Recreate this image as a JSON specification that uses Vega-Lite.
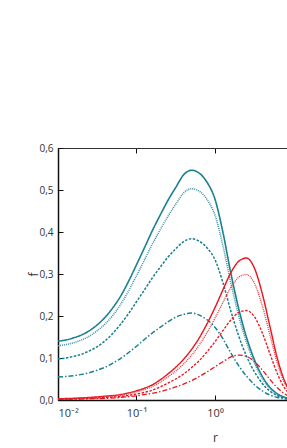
{
  "$schema": "https://vega.github.io/schema/vega-lite/v6.json",
  "width": 314,
  "height": 252,
  "autosize": "none",
  "padding": {"left": 58, "top": 148, "right": 0, "bottom": 48},
  "background": "white",
  "config": {
    "view": {"stroke": "#333", "strokeWidth": 1},
    "font": "Open Sans",
    "axis": {
      "labelFont": "Open Sans", "titleFont": "Open Sans",
      "labelColor": "#333", "titleColor": "#333",
      "labelFontSize": 10, "titleFontSize": 12, "titleFontWeight": "normal",
      "domainColor": "#111", "domainWidth": 1.5, "tickColor": "#111", "tickWidth": 1,
      "grid": false
    }
  },
  "datasets": {
    "curves": [
      {"r": 0.01, "s": "B1", "f": 0.140}, {"r": 0.0126, "s": "B1", "f": 0.143}, {"r": 0.0158, "s": "B1", "f": 0.148}, {"r": 0.02, "s": "B1", "f": 0.155}, {"r": 0.0251, "s": "B1", "f": 0.165}, {"r": 0.0316, "s": "B1", "f": 0.179}, {"r": 0.0398, "s": "B1", "f": 0.197}, {"r": 0.0501, "s": "B1", "f": 0.220}, {"r": 0.0631, "s": "B1", "f": 0.248}, {"r": 0.0794, "s": "B1", "f": 0.283}, {"r": 0.1, "s": "B1", "f": 0.322}, {"r": 0.126, "s": "B1", "f": 0.362}, {"r": 0.158, "s": "B1", "f": 0.402}, {"r": 0.2, "s": "B1", "f": 0.440}, {"r": 0.251, "s": "B1", "f": 0.475}, {"r": 0.316, "s": "B1", "f": 0.506}, {"r": 0.398, "s": "B1", "f": 0.536}, {"r": 0.501, "s": "B1", "f": 0.547}, {"r": 0.631, "s": "B1", "f": 0.540}, {"r": 0.794, "s": "B1", "f": 0.518}, {"r": 1, "s": "B1", "f": 0.478}, {"r": 1.26, "s": "B1", "f": 0.400}, {"r": 1.58, "s": "B1", "f": 0.305}, {"r": 2.0, "s": "B1", "f": 0.218}, {"r": 2.51, "s": "B1", "f": 0.150}, {"r": 3.16, "s": "B1", "f": 0.097}, {"r": 3.98, "s": "B1", "f": 0.057}, {"r": 5.01, "s": "B1", "f": 0.030}, {"r": 6.31, "s": "B1", "f": 0.014}, {"r": 7.94, "s": "B1", "f": 0.006}, {"r": 10, "s": "B1", "f": 0.0025}, {"r": 15.8, "s": "B1", "f": 0.0005}, {"r": 31.6, "s": "B1", "f": 0.0}, {"r": 100, "s": "B1", "f": 0.0},

      {"r": 0.01, "s": "B2", "f": 0.129}, {"r": 0.0126, "s": "B2", "f": 0.132}, {"r": 0.0158, "s": "B2", "f": 0.136}, {"r": 0.02, "s": "B2", "f": 0.143}, {"r": 0.0251, "s": "B2", "f": 0.152}, {"r": 0.0316, "s": "B2", "f": 0.165}, {"r": 0.0398, "s": "B2", "f": 0.181}, {"r": 0.0501, "s": "B2", "f": 0.202}, {"r": 0.0631, "s": "B2", "f": 0.228}, {"r": 0.0794, "s": "B2", "f": 0.260}, {"r": 0.1, "s": "B2", "f": 0.296}, {"r": 0.126, "s": "B2", "f": 0.333}, {"r": 0.158, "s": "B2", "f": 0.370}, {"r": 0.2, "s": "B2", "f": 0.405}, {"r": 0.251, "s": "B2", "f": 0.437}, {"r": 0.316, "s": "B2", "f": 0.466}, {"r": 0.398, "s": "B2", "f": 0.493}, {"r": 0.501, "s": "B2", "f": 0.503}, {"r": 0.631, "s": "B2", "f": 0.497}, {"r": 0.794, "s": "B2", "f": 0.477}, {"r": 1, "s": "B2", "f": 0.440}, {"r": 1.26, "s": "B2", "f": 0.368}, {"r": 1.58, "s": "B2", "f": 0.281}, {"r": 2.0, "s": "B2", "f": 0.201}, {"r": 2.51, "s": "B2", "f": 0.138}, {"r": 3.16, "s": "B2", "f": 0.089}, {"r": 3.98, "s": "B2", "f": 0.052}, {"r": 5.01, "s": "B2", "f": 0.028}, {"r": 6.31, "s": "B2", "f": 0.013}, {"r": 7.94, "s": "B2", "f": 0.0055}, {"r": 10, "s": "B2", "f": 0.0023}, {"r": 15.8, "s": "B2", "f": 0.0005}, {"r": 31.6, "s": "B2", "f": 0.0}, {"r": 100, "s": "B2", "f": 0.0},

      {"r": 0.01, "s": "B3", "f": 0.098}, {"r": 0.0126, "s": "B3", "f": 0.100}, {"r": 0.0158, "s": "B3", "f": 0.104}, {"r": 0.02, "s": "B3", "f": 0.109}, {"r": 0.0251, "s": "B3", "f": 0.117}, {"r": 0.0316, "s": "B3", "f": 0.127}, {"r": 0.0398, "s": "B3", "f": 0.141}, {"r": 0.0501, "s": "B3", "f": 0.159}, {"r": 0.0631, "s": "B3", "f": 0.181}, {"r": 0.0794, "s": "B3", "f": 0.206}, {"r": 0.1, "s": "B3", "f": 0.234}, {"r": 0.126, "s": "B3", "f": 0.262}, {"r": 0.158, "s": "B3", "f": 0.290}, {"r": 0.2, "s": "B3", "f": 0.316}, {"r": 0.251, "s": "B3", "f": 0.340}, {"r": 0.316, "s": "B3", "f": 0.360}, {"r": 0.398, "s": "B3", "f": 0.377}, {"r": 0.501, "s": "B3", "f": 0.384}, {"r": 0.631, "s": "B3", "f": 0.378}, {"r": 0.794, "s": "B3", "f": 0.362}, {"r": 1, "s": "B3", "f": 0.334}, {"r": 1.26, "s": "B3", "f": 0.280}, {"r": 1.58, "s": "B3", "f": 0.214}, {"r": 2.0, "s": "B3", "f": 0.153}, {"r": 2.51, "s": "B3", "f": 0.105}, {"r": 3.16, "s": "B3", "f": 0.068}, {"r": 3.98, "s": "B3", "f": 0.040}, {"r": 5.01, "s": "B3", "f": 0.021}, {"r": 6.31, "s": "B3", "f": 0.010}, {"r": 7.94, "s": "B3", "f": 0.004}, {"r": 10, "s": "B3", "f": 0.0018}, {"r": 15.8, "s": "B3", "f": 0.0004}, {"r": 31.6, "s": "B3", "f": 0.0}, {"r": 100, "s": "B3", "f": 0.0},

      {"r": 0.01, "s": "B4", "f": 0.055}, {"r": 0.0126, "s": "B4", "f": 0.056}, {"r": 0.0158, "s": "B4", "f": 0.058}, {"r": 0.02, "s": "B4", "f": 0.061}, {"r": 0.0251, "s": "B4", "f": 0.065}, {"r": 0.0316, "s": "B4", "f": 0.071}, {"r": 0.0398, "s": "B4", "f": 0.078}, {"r": 0.0501, "s": "B4", "f": 0.088}, {"r": 0.0631, "s": "B4", "f": 0.099}, {"r": 0.0794, "s": "B4", "f": 0.113}, {"r": 0.1, "s": "B4", "f": 0.128}, {"r": 0.126, "s": "B4", "f": 0.144}, {"r": 0.158, "s": "B4", "f": 0.159}, {"r": 0.2, "s": "B4", "f": 0.173}, {"r": 0.251, "s": "B4", "f": 0.186}, {"r": 0.316, "s": "B4", "f": 0.197}, {"r": 0.398, "s": "B4", "f": 0.204}, {"r": 0.501, "s": "B4", "f": 0.207}, {"r": 0.631, "s": "B4", "f": 0.202}, {"r": 0.794, "s": "B4", "f": 0.191}, {"r": 1, "s": "B4", "f": 0.173}, {"r": 1.26, "s": "B4", "f": 0.146}, {"r": 1.58, "s": "B4", "f": 0.113}, {"r": 2.0, "s": "B4", "f": 0.082}, {"r": 2.51, "s": "B4", "f": 0.057}, {"r": 3.16, "s": "B4", "f": 0.037}, {"r": 3.98, "s": "B4", "f": 0.022}, {"r": 5.01, "s": "B4", "f": 0.012}, {"r": 6.31, "s": "B4", "f": 0.006}, {"r": 7.94, "s": "B4", "f": 0.0025}, {"r": 10, "s": "B4", "f": 0.001}, {"r": 15.8, "s": "B4", "f": 0.0002}, {"r": 31.6, "s": "B4", "f": 0.0}, {"r": 100, "s": "B4", "f": 0.0},

      {"r": 0.01, "s": "R1", "f": 0.003}, {"r": 0.0158, "s": "R1", "f": 0.004}, {"r": 0.0251, "s": "R1", "f": 0.006}, {"r": 0.0398, "s": "R1", "f": 0.009}, {"r": 0.0631, "s": "R1", "f": 0.013}, {"r": 0.0794, "s": "R1", "f": 0.017}, {"r": 0.1, "s": "R1", "f": 0.022}, {"r": 0.126, "s": "R1", "f": 0.028}, {"r": 0.158, "s": "R1", "f": 0.036}, {"r": 0.2, "s": "R1", "f": 0.048}, {"r": 0.251, "s": "R1", "f": 0.062}, {"r": 0.316, "s": "R1", "f": 0.078}, {"r": 0.398, "s": "R1", "f": 0.097}, {"r": 0.501, "s": "R1", "f": 0.120}, {"r": 0.631, "s": "R1", "f": 0.148}, {"r": 0.794, "s": "R1", "f": 0.182}, {"r": 1, "s": "R1", "f": 0.220}, {"r": 1.26, "s": "R1", "f": 0.262}, {"r": 1.58, "s": "R1", "f": 0.302}, {"r": 2.0, "s": "R1", "f": 0.330}, {"r": 2.51, "s": "R1", "f": 0.338}, {"r": 3.16, "s": "R1", "f": 0.315}, {"r": 3.98, "s": "R1", "f": 0.255}, {"r": 5.01, "s": "R1", "f": 0.175}, {"r": 6.31, "s": "R1", "f": 0.095}, {"r": 7.94, "s": "R1", "f": 0.040}, {"r": 10, "s": "R1", "f": 0.014}, {"r": 15.8, "s": "R1", "f": 0.002}, {"r": 31.6, "s": "R1", "f": 0.0}, {"r": 100, "s": "R1", "f": 0.0},

      {"r": 0.01, "s": "R2", "f": 0.0027}, {"r": 0.0158, "s": "R2", "f": 0.0035}, {"r": 0.0251, "s": "R2", "f": 0.0053}, {"r": 0.0398, "s": "R2", "f": 0.008}, {"r": 0.0631, "s": "R2", "f": 0.0115}, {"r": 0.0794, "s": "R2", "f": 0.015}, {"r": 0.1, "s": "R2", "f": 0.0195}, {"r": 0.126, "s": "R2", "f": 0.0248}, {"r": 0.158, "s": "R2", "f": 0.0319}, {"r": 0.2, "s": "R2", "f": 0.0425}, {"r": 0.251, "s": "R2", "f": 0.0549}, {"r": 0.316, "s": "R2", "f": 0.069}, {"r": 0.398, "s": "R2", "f": 0.0858}, {"r": 0.501, "s": "R2", "f": 0.106}, {"r": 0.631, "s": "R2", "f": 0.131}, {"r": 0.794, "s": "R2", "f": 0.161}, {"r": 1, "s": "R2", "f": 0.195}, {"r": 1.26, "s": "R2", "f": 0.232}, {"r": 1.58, "s": "R2", "f": 0.267}, {"r": 2.0, "s": "R2", "f": 0.292}, {"r": 2.51, "s": "R2", "f": 0.299}, {"r": 3.16, "s": "R2", "f": 0.279}, {"r": 3.98, "s": "R2", "f": 0.226}, {"r": 5.01, "s": "R2", "f": 0.155}, {"r": 6.31, "s": "R2", "f": 0.084}, {"r": 7.94, "s": "R2", "f": 0.035}, {"r": 10, "s": "R2", "f": 0.012}, {"r": 15.8, "s": "R2", "f": 0.002}, {"r": 31.6, "s": "R2", "f": 0.0}, {"r": 100, "s": "R2", "f": 0.0},

      {"r": 0.01, "s": "R3", "f": 0.002}, {"r": 0.0158, "s": "R3", "f": 0.0026}, {"r": 0.0251, "s": "R3", "f": 0.0039}, {"r": 0.0398, "s": "R3", "f": 0.0059}, {"r": 0.0631, "s": "R3", "f": 0.0085}, {"r": 0.0794, "s": "R3", "f": 0.011}, {"r": 0.1, "s": "R3", "f": 0.0143}, {"r": 0.126, "s": "R3", "f": 0.018}, {"r": 0.158, "s": "R3", "f": 0.0234}, {"r": 0.2, "s": "R3", "f": 0.031}, {"r": 0.251, "s": "R3", "f": 0.040}, {"r": 0.316, "s": "R3", "f": 0.050}, {"r": 0.398, "s": "R3", "f": 0.062}, {"r": 0.501, "s": "R3", "f": 0.077}, {"r": 0.631, "s": "R3", "f": 0.094}, {"r": 0.794, "s": "R3", "f": 0.115}, {"r": 1, "s": "R3", "f": 0.139}, {"r": 1.26, "s": "R3", "f": 0.165}, {"r": 1.58, "s": "R3", "f": 0.190}, {"r": 2.0, "s": "R3", "f": 0.208}, {"r": 2.51, "s": "R3", "f": 0.213}, {"r": 3.16, "s": "R3", "f": 0.199}, {"r": 3.98, "s": "R3", "f": 0.161}, {"r": 5.01, "s": "R3", "f": 0.110}, {"r": 6.31, "s": "R3", "f": 0.060}, {"r": 7.94, "s": "R3", "f": 0.025}, {"r": 10, "s": "R3", "f": 0.009}, {"r": 15.8, "s": "R3", "f": 0.001}, {"r": 31.6, "s": "R3", "f": 0.0}, {"r": 100, "s": "R3", "f": 0.0},

      {"r": 0.01, "s": "R4", "f": 0.0015}, {"r": 0.0158, "s": "R4", "f": 0.002}, {"r": 0.0251, "s": "R4", "f": 0.003}, {"r": 0.0398, "s": "R4", "f": 0.004}, {"r": 0.0631, "s": "R4", "f": 0.006}, {"r": 0.0794, "s": "R4", "f": 0.008}, {"r": 0.1, "s": "R4", "f": 0.010}, {"r": 0.126, "s": "R4", "f": 0.013}, {"r": 0.158, "s": "R4", "f": 0.016}, {"r": 0.2, "s": "R4", "f": 0.020}, {"r": 0.251, "s": "R4", "f": 0.025}, {"r": 0.316, "s": "R4", "f": 0.031}, {"r": 0.398, "s": "R4", "f": 0.038}, {"r": 0.501, "s": "R4", "f": 0.046}, {"r": 0.631, "s": "R4", "f": 0.056}, {"r": 0.794, "s": "R4", "f": 0.067}, {"r": 1, "s": "R4", "f": 0.079}, {"r": 1.26, "s": "R4", "f": 0.091}, {"r": 1.58, "s": "R4", "f": 0.102}, {"r": 2.0, "s": "R4", "f": 0.107}, {"r": 2.51, "s": "R4", "f": 0.104}, {"r": 3.16, "s": "R4", "f": 0.092}, {"r": 3.98, "s": "R4", "f": 0.072}, {"r": 5.01, "s": "R4", "f": 0.049}, {"r": 6.31, "s": "R4", "f": 0.028}, {"r": 7.94, "s": "R4", "f": 0.013}, {"r": 10, "s": "R4", "f": 0.005}, {"r": 15.8, "s": "R4", "f": 0.001}, {"r": 31.6, "s": "R4", "f": 0.0}, {"r": 100, "s": "R4", "f": 0.0}
    ]
  },
  "data": {"name": "curves"},
  "layer": [
    {
      "mark": {"type": "line", "interpolate": "monotone", "clip": true},
      "encoding": {
        "x": {
          "field": "r", "type": "quantitative",
          "scale": {"type": "log", "domain": [0.01, 100], "nice": false},
          "axis": {
            "orient": "bottom", "title": "r", "values": [0.01, 0.1, 1],
            "labelExpr": "datum.value < 0.05 ? '10⁻²' : datum.value < 0.5 ? '10⁻¹' : '10⁰'",
            "labelFontSize": 11,
            "tickSize": -5, "labelPadding": 12, "titlePadding": 14
          }
        },
        "y": {
          "field": "f", "type": "quantitative",
          "scale": {"domain": [0, 0.6], "nice": false},
          "axis": {
            "title": "f", "values": [0, 0.1, 0.2, 0.3, 0.4, 0.5, 0.6],
            "labelExpr": "replace(format(datum.value, '.1f'), '.', ',')",
            "tickSize": -5, "labelPadding": 10, "titlePadding": -2
          }
        },
        "color": {
          "field": "s", "type": "nominal", "legend": null,
          "scale": {"domain": ["B1", "B2", "B3", "B4", "R1", "R2", "R3", "R4"],
                    "range": ["#1a7f8f", "#3a90a0", "#1a7f8f", "#1a7f8f", "#e8141e", "#ea3a44", "#e8141e", "#e8141e"]}
        },
        "strokeDash": {
          "field": "s", "type": "nominal", "legend": null,
          "scale": {"domain": ["B1", "B2", "B3", "B4", "R1", "R2", "R3", "R4"],
                    "range": [[1, 0], [1, 1], [2.5, 1.5], [5, 2, 1.5, 2], [1, 0], [1, 1], [2.5, 1.5], [5, 2, 1.5, 2]]}
        },
        "strokeWidth": {
          "field": "s", "type": "nominal", "legend": null,
          "scale": {"domain": ["B1", "B2", "B3", "B4", "R1", "R2", "R3", "R4"],
                    "range": [1.6, 1.3, 1.4, 1.4, 1.6, 1.3, 1.4, 1.4]}
        }
      }
    },
    {
      "mark": {"type": "line", "strokeOpacity": 0},
      "encoding": {
        "x": {
          "field": "r", "type": "quantitative",
          "scale": {"type": "log", "domain": [0.01, 100], "nice": false},
          "axis": {"orient": "top", "title": null, "labels": false, "values": [0.1, 1, 10], "tickSize": -5, "domainWidth": 1, "domainColor": "#333"}
        },
        "y": {"field": "f", "type": "quantitative"},
        "detail": {"field": "s"}
      }
    }
  ],
  "resolve": {"axis": {"x": "independent"}}
}
